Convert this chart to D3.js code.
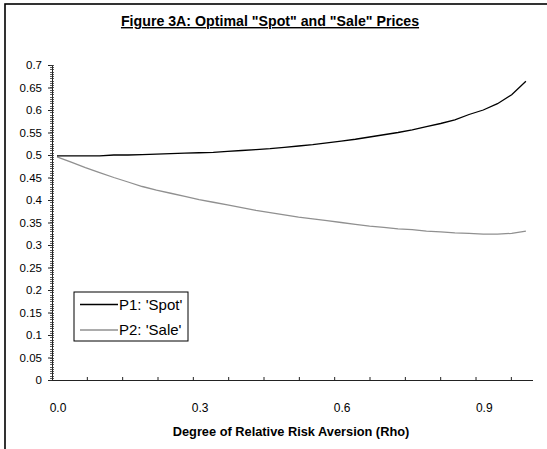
<!DOCTYPE html>
<html>
<head>
<meta charset="utf-8">
<script src="https://cdn.jsdelivr.net/npm/d3@7"></script>
<style>
	body { margin: 0; background: #fff; }
	svg { display: block; font-family: 'Liberation Sans', Arial, sans-serif; }
</style>
</head>
<body>
<div id="app"></div>
<script>

// rho values (every 0.03)
const rho = [0.00, 0.03, 0.06, 0.09, 0.12, 0.15, 0.18, 0.21, 0.24, 0.27, 0.30, 0.33,
	0.36, 0.39, 0.42, 0.45, 0.48, 0.51, 0.54, 0.57, 0.60, 0.63, 0.66, 0.69, 0.72,
	0.75, 0.78, 0.81, 0.84, 0.87, 0.90, 0.93, 0.96, 0.99];

const spot = [0.498, 0.498, 0.498, 0.498, 0.500, 0.500, 0.501, 0.502, 0.503, 0.504,
	0.505, 0.506, 0.508, 0.510, 0.512, 0.514, 0.517, 0.520, 0.523, 0.527, 0.531,
	0.535, 0.540, 0.545, 0.550, 0.556, 0.563, 0.570, 0.578, 0.590, 0.600, 0.614,
	0.634, 0.664];

const sale = [0.496, 0.484, 0.472, 0.461, 0.450, 0.440, 0.430, 0.422, 0.415, 0.408,
	0.401, 0.395, 0.389, 0.383, 0.377, 0.372, 0.367, 0.362, 0.358, 0.354, 0.350,
	0.346, 0.342, 0.339, 0.336, 0.334, 0.331, 0.329, 0.327, 0.326, 0.324, 0.324,
	0.326, 0.331];

const xLabels = [0.0, 0.3, 0.6, 0.9];
const seriesNames = ["P1: 'Spot'", "P2: 'Sale'"];
const title = 'Figure 3A: Optimal "Spot" and "Sale" Prices';
const xTitle = 'Degree of Relative Risk Aversion (Rho)';

const chart = () => {

	const W = 547, H = 449;

	const svg = d3.select('#app').append('svg')
		.attr('width', W)
		.attr('height', H);

	// outer chart frame (runs off the right / bottom of the picture)
	svg.append('rect')
		.attr('x', 5)
		.attr('y', 4)
		.attr('width', W + 10)
		.attr('height', H + 10)
		.attr('fill', 'none')
		.attr('stroke', '#000')
		.attr('stroke-width', 1.6);

	svg.append('text')
		.attr('x', 270)
		.attr('y', 26)
		.attr('text-anchor', 'middle')
		.style('font-size', '14.2px')
		.style('font-weight', 'bold')
		.style('text-decoration', 'underline')
		.text(title);

	const x = d3.scaleLinear()
		.domain([-0.0105, 1.005])
		.range([52, 533]);

	const y = d3.scaleLinear()
		.domain([0, 0.7])
		.range([380, 65]);

	const fmt = d3.format('.1f');

	// y axis: major every 0.05, dense minor ticks
	const yAxis = d3.axisLeft(y)
		.tickValues(d3.range(0, 0.7001, 0.05))
		.tickSize(4)
		.tickFormat(d => d === 0 ? '0' : String(+d.toFixed(2)));
	const gy = svg.append('g')
		.attr('transform', 'translate(52,0)')
		.call(yAxis);
	gy.select('.domain').attr('stroke', '#222');
	gy.selectAll('.tick line').attr('stroke', '#222');
	gy.selectAll('.tick text')
		.attr('x', -10)
		.attr('fill', '#000')
		.style('font-size', '11.5px')
		.style('font-family', "'Liberation Sans', Arial, sans-serif");

	svg.append('g')
		.selectAll('line')
		.data(d3.range(0, 0.7001, 0.005))
		.join('line')
		.attr('x1', 50)
		.attr('x2', 54)
		.attr('y1', d => Math.round(y(d)) + 0.5)
		.attr('y2', d => Math.round(y(d)) + 0.5)
		.attr('stroke', '#333')
		.attr('stroke-width', 0.8);

	// x axis line and small tick marks pointing inward
	const xd = x.domain();
	svg.append('line')
		.attr('x1', x(xd[0]))
		.attr('x2', x(xd[1]))
		.attr('y1', 380.5)
		.attr('y2', 380.5)
		.attr('stroke', '#222');

	const step = 0.0746;
	svg.append('g')
		.selectAll('line')
		.data(d3.range(1, 14).map(k => xd[0] + k * step))
		.join('line')
		.attr('x1', d => x(d))
		.attr('x2', d => x(d))
		.attr('y1', 377)
		.attr('y2', 381)
		.attr('stroke', '#222');

	svg.append('g')
		.selectAll('text')
		.data(xLabels)
		.join('text')
		.attr('x', d => x(d) + 1)
		.attr('y', 412)
		.attr('text-anchor', 'middle')
		.style('font-size', '12px')
		.text(d => fmt(d));

	svg.append('text')
		.attr('x', 291)
		.attr('y', 436)
		.attr('text-anchor', 'middle')
		.style('font-size', '12.8px')
		.style('font-weight', 'bold')
		.text(xTitle);

	const line = d3.line()
		.x((d, i) => x(rho[i]))
		.y(d => y(d));

	svg.append('path')
		.datum(sale)
		.attr('d', line)
		.attr('fill', 'none')
		.attr('stroke', '#909090')
		.attr('stroke-width', 1.3);

	svg.append('path')
		.datum(spot)
		.attr('d', line)
		.attr('fill', 'none')
		.attr('stroke', '#000')
		.attr('stroke-width', 1.3);

	// legend
	const lg = svg.append('g').attr('transform', 'translate(74,292)');
	lg.append('rect')
		.attr('width', 114)
		.attr('height', 49)
		.attr('fill', '#fff')
		.attr('stroke', '#000')
		.attr('stroke-width', 1);

	const colors = ['#000', '#909090'];
	seriesNames.forEach((name, i) => {
		const ly = 12.5 + i * 25.5;
		lg.append('line')
			.attr('x1', 6)
			.attr('x2', 44)
			.attr('y1', ly)
			.attr('y2', ly)
			.attr('stroke', colors[i])
			.attr('stroke-width', 1.3);
		lg.append('text')
			.attr('x', 45)
			.attr('y', ly + 5)
			.style('font-size', '15px')
			.text(name);
	});

};

chart();
</script>
</body>
</html>
